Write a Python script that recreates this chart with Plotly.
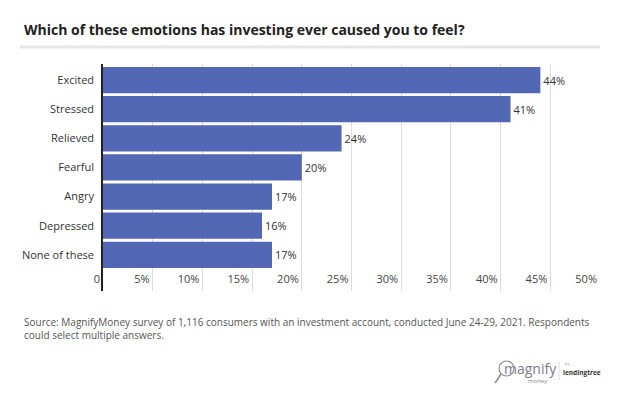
import plotly.graph_objects as go

categories = ["Excited", "Stressed", "Relieved", "Fearful", "Angry", "Depressed", "None of these"]
values = [44, 41, 24, 20, 17, 16, 17]
tick_vals = [0, 5, 10, 15, 20, 25, 30, 35, 40, 45, 50]
tick_text = ["0", "5%", "10%", "15%", "20%", "25%", "30%", "35%", "40%", "45%", "50%"]

cats_rev = categories[::-1]
vals_rev = values[::-1]

FONT = "Open Sans"

# page has an 8px body margin; figure is sized to fill the rest of the window
PL, PT, PW, PH = 103, 64, 497, 227  # plot area in page pixels


def px(xp):
    return (xp - PL) / PW


def py(yp):
    return 1 - (yp - PT) / PH


fig = go.Figure()
fig.add_trace(go.Bar(
    x=vals_rev, y=cats_rev, orientation="h",
    marker=dict(color="#5268b4", line=dict(width=0)),
    text=[f"{v}%" for v in vals_rev], textposition="outside",
    textfont=dict(family=FONT, size=11, color="#333333"),
    cliponaxis=False, hoverinfo="skip",
))

fig.update_layout(
    width=616, height=390,
    margin=dict(l=PL - 8, r=616 + 8 - PL - PW, t=PT - 8, b=390 + 8 - PT - PH),
    paper_bgcolor="white", plot_bgcolor="white",
    bargap=0.1, showlegend=False,
    font=dict(family=FONT, size=11, color="#333333"),
    xaxis=dict(
        range=[0, 50], tickvals=tick_vals, ticktext=tick_text,
        showgrid=True, gridcolor="#dcdcdc", gridwidth=1,
        zeroline=False, showline=False, ticks="",
        ticklabelposition="inside left", ticklabeloverflow="allow",
        ticklabelshift=-3,
        tickfont=dict(family=FONT, size=11, color="#444444"),
        fixedrange=True,
    ),
    yaxis=dict(
        range=[-1.24, 6.55], showgrid=False, zeroline=False,
        showline=True, linecolor="#222222", linewidth=1.5,
        ticks="", ticklabelstandoff=5,
        tickfont=dict(family=FONT, size=11, color="#333333"),
        fixedrange=True,
    ),
)

# Title
fig.add_annotation(
    text="<b>Which of these emotions has investing ever caused you to feel?</b>",
    xref="paper", yref="paper", x=px(22), y=py(30),
    xanchor="left", yanchor="middle", showarrow=False,
    font=dict(family=FONT, size=14, color="#222222"),
)
# Gray rule under title
fig.add_shape(type="line", xref="paper", yref="paper",
              x0=px(20), x1=px(600), y0=py(47), y1=py(47),
              line=dict(color="#e6e6e6", width=3))

# Source note
fig.add_annotation(
    text="Source: MagnifyMoney survey of 1,116 consumers with an investment account, conducted June 24-29, 2021. Respondents<br>could select multiple answers.",
    xref="paper", yref="paper", x=px(22), y=py(313),
    xanchor="left", yanchor="top", align="left", showarrow=False,
    font=dict(family=FONT, size=10, color="#555555"),
)

# Logo as text
def logo_text(txt, x, y, size, color):
    fig.add_annotation(text=txt, xref="paper", yref="paper", x=px(x), y=py(y),
                       xanchor="center", yanchor="middle", showarrow=False,
                       font=dict(family=FONT, size=size, color=color))


logo_text("magnify", 530, 368, 14, "#7a7a8a")
logo_text("money", 537, 381, 6, "#888888")
logo_text("by", 567, 363, 4, "#999999")
logo_text("<b>lendingtree</b>", 582, 372, 6.5, "#333333")
fig.add_shape(type="circle", xref="paper", yref="paper",
              x0=px(499), x1=px(514), y0=py(376), y1=py(361),
              line=dict(color="#8a8a9a", width=1.2))
fig.add_shape(type="line", xref="paper", yref="paper",
              x0=px(501), x1=px(495), y0=py(374), y1=py(383),
              line=dict(color="#8a8a9a", width=1.5))
fig.add_shape(type="line", xref="paper", yref="paper",
              x0=px(559), x1=px(559), y0=py(362), y1=py(380),
              line=dict(color="#dddddd", width=1))

fig.write_html("out.html")
